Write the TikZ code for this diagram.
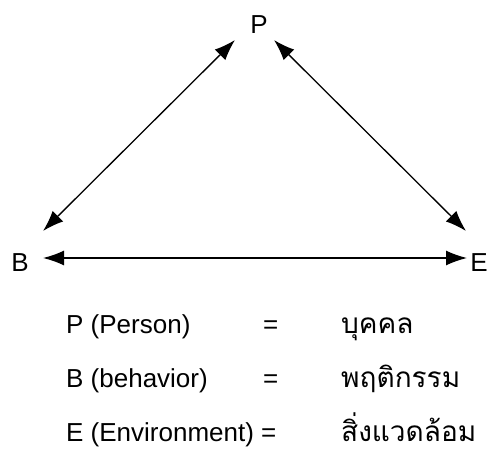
\documentclass[tikz,border=0pt]{standalone}
\usepackage{fontspec}
\setmainfont{Liberation Sans}
\newfontfamily\thaifont[Script=Thai]{Loma}
\usetikzlibrary{arrows.meta}
\tikzset{
  lbl/.style={inner sep=0pt, font=\fontsize{26}{30}\selectfont},
  row/.style={inner sep=0pt, anchor=base west, font=\fontsize{26}{30}\selectfont},
  thai/.style={inner sep=0pt, anchor=base west, font=\thaifont\fontsize{28}{32}\selectfont},
  link/.style={line width=1.3pt, {Latex[length=21pt,width=15pt]}-{Latex[length=21pt,width=15pt]}}
}
\begin{document}
\begin{tikzpicture}[x=1pt,y=-1pt]
\useasboundingbox (0,0) rectangle (487,454);
\node[lbl] (P) at (259,25) {P};
\node[lbl] (B) at (20,263) {B};
\node[lbl] (E) at (479,263) {E};
\coordinate (pl) at (235,40);
\coordinate (bl) at (43,231);
\coordinate (pr) at (274,40);
\coordinate (er) at (466,231);
\coordinate (bh) at (43,258);
\coordinate (eh) at (467,258);
\draw[link] (pl) -- (bl);
\draw[link] (pr) -- (er);
\draw[link] (bh) -- (eh);
\node[row] (r1) at (66,333) {P (Person)};
\node[row] (e1) at (263,333) {=};
\node[thai] (t1) at (341,333) {บุคคล};
\node[row] (r2) at (66,387) {B (behavior)};
\node[row] (e2) at (263,387) {=};
\node[thai] (t2) at (341,387) {พฤติกรรม};
\node[row] (r3) at (66,441) {E (Environment) =};
\node[thai] (t3) at (341,441) {สิ่งแวดล้อม};
\end{tikzpicture}
\end{document}
